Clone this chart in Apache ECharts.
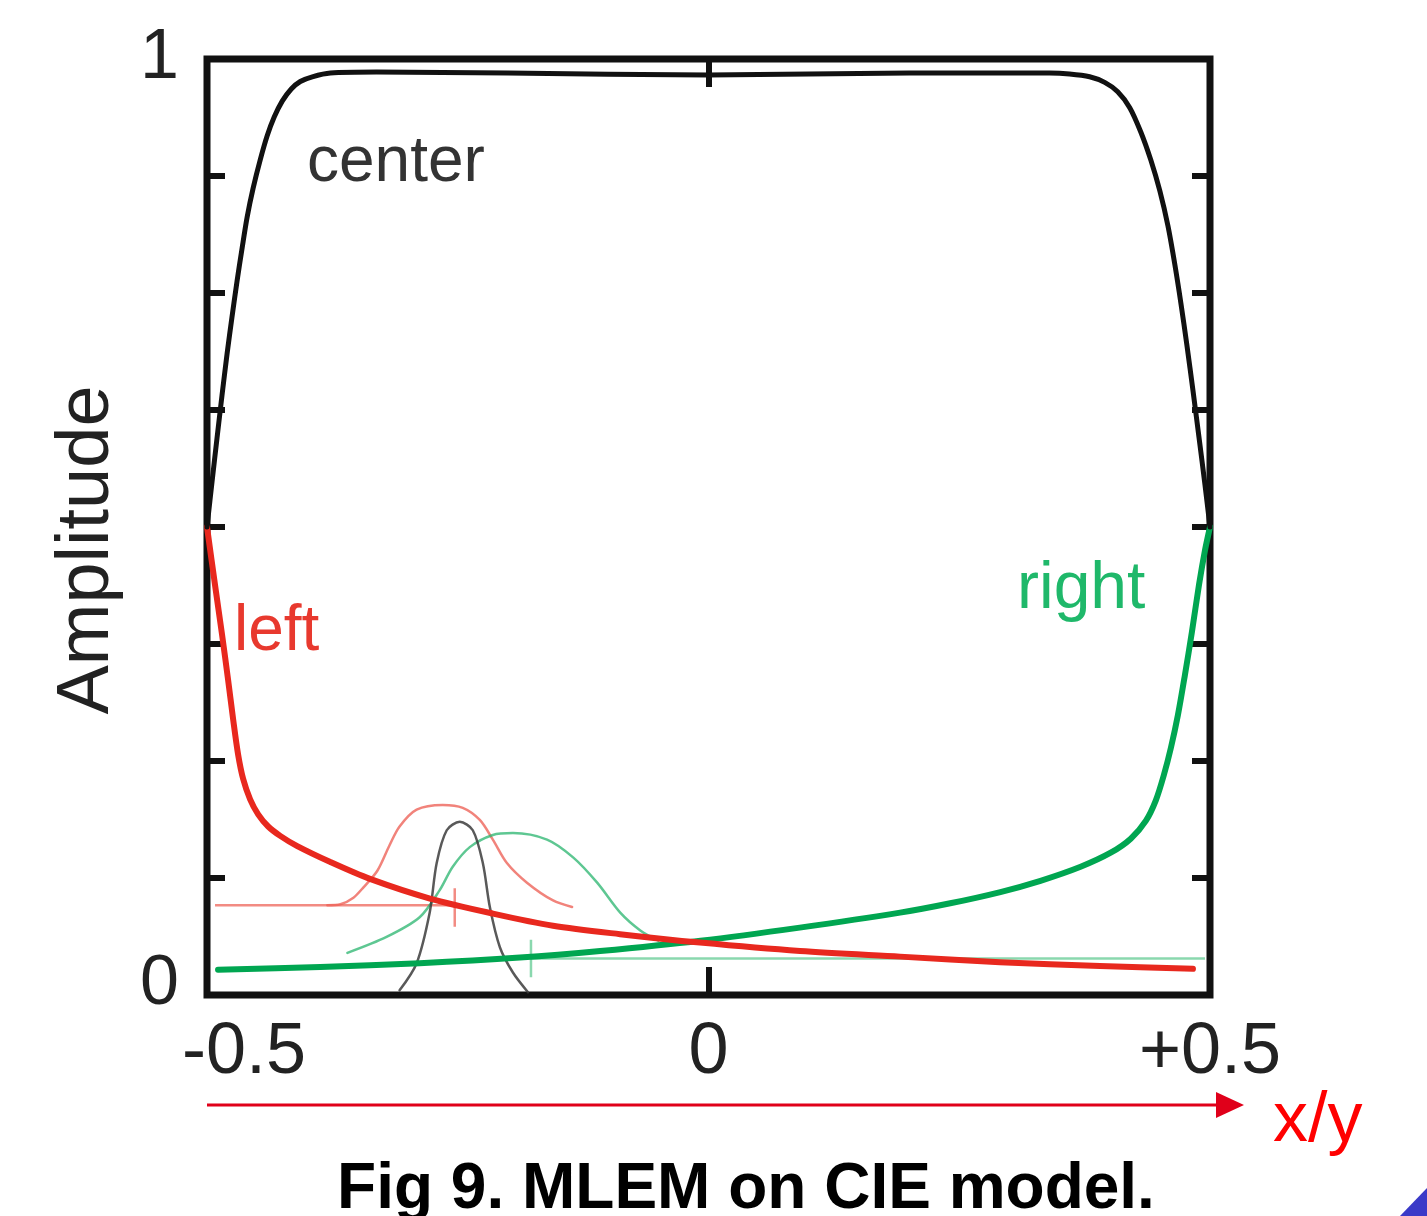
<!DOCTYPE html>
<html><head><meta charset="utf-8">
<script src="https://cdn.jsdelivr.net/npm/echarts@6/dist/echarts.min.js"></script>
<style>html,body{margin:0;padding:0;background:#fff;} #c{width:1427px;height:1216px;}</style>
</head><body><div id="c"></div>
<script>
// x/y tick labels
const xTickValues = [-0.5, 0, 0.5];
const xTickLabels = ['-0.5', '0', '+0.5'];
const yTickValues = [0, 1];
const yTickLabels = ['0', '1'];

// thick curves
const centerCurve = [[-0.5,0.5],[-0.495,0.548],[-0.49,0.595],[-0.485,0.641],[-0.48,0.685],[-0.475,0.725],[-0.47,0.763],[-0.465,0.798],[-0.46,0.831],[-0.454,0.862],[-0.447,0.892],[-0.44,0.918],[-0.433,0.938],[-0.425,0.955],[-0.416,0.968],[-0.407,0.976],[-0.395,0.981],[-0.377,0.985],[-0.331,0.986],[-0.2,0.985],[0,0.983],[0.2,0.985],[0.34,0.985],[0.36,0.984],[0.38,0.981],[0.395,0.975],[0.408,0.965],[0.42,0.948],[0.431,0.922],[0.441,0.892],[0.45,0.859],[0.458,0.822],[0.465,0.78],[0.471,0.739],[0.477,0.694],[0.483,0.646],[0.489,0.596],[0.495,0.545],[0.5,0.5]];
const leftCurve = [[-0.5,0.5],[-0.492,0.438],[-0.485,0.385],[-0.479,0.337],[-0.474,0.295],[-0.469,0.257],[-0.464,0.231],[-0.457,0.209],[-0.449,0.193],[-0.439,0.180],[-0.427,0.170],[-0.41,0.159],[-0.377,0.142],[-0.3375,0.124],[-0.2777,0.103],[-0.2149,0.087],[-0.155,0.074],[-0.0882,0.065],[-0.0085,0.056],[0.0912,0.047],[0.191,0.041],[0.2906,0.035],[0.3903,0.031],[0.483,0.028]];
const rightCurve = [[-0.489,0.027],[-0.387,0.030],[-0.288,0.034],[-0.188,0.040],[-0.108,0.047],[-0.008,0.058],[0.091,0.072],[0.191,0.088],[0.241,0.098],[0.291,0.110],[0.331,0.122],[0.371,0.137],[0.401,0.152],[0.421,0.167],[0.436,0.186],[0.446,0.208],[0.454,0.235],[0.461,0.264],[0.468,0.299],[0.475,0.342],[0.482,0.388],[0.489,0.438],[0.495,0.475],[0.5,0.5]];

// thin response curves
const leftBell = [[-0.38,0.096],[-0.367,0.097],[-0.354,0.104],[-0.344,0.115],[-0.33,0.133],[-0.318,0.16],[-0.308,0.18],[-0.291,0.198],[-0.265,0.203],[-0.245,0.2],[-0.228,0.187],[-0.215,0.166],[-0.201,0.141],[-0.181,0.12],[-0.155,0.101],[-0.136,0.094]];
const centerBell = [[-0.308,0.005],[-0.291,0.034],[-0.278,0.088],[-0.271,0.141],[-0.261,0.176],[-0.248,0.185],[-0.235,0.176],[-0.225,0.141],[-0.218,0.094],[-0.208,0.051],[-0.195,0.024],[-0.18,0.003]];
const rightBell = [[-0.36,0.045],[-0.321,0.062],[-0.288,0.083],[-0.268,0.112],[-0.255,0.137],[-0.238,0.158],[-0.215,0.171],[-0.195,0.173],[-0.161,0.166],[-0.135,0.147],[-0.111,0.12],[-0.088,0.088],[-0.068,0.069],[-0.05,0.058]];

// markers
const leftBase = [[-0.492,0.096],[-0.253,0.096]];
const leftMark = [[-0.253,0.114],[-0.253,0.073]];
const rightBase = [[-0.177,0.039],[0.495,0.039]];
const rightMark = [[-0.177,0.059],[-0.177,0.019]];

const FONT = '"Liberation Sans", Arial, Helvetica, sans-serif';
const chart = echarts.init(document.getElementById('c'));

function line(data, color, width, z, sm) {
  return {type:'line', data, showSymbol:false, symbol:'none', smooth:sm===undefined?0.3:sm,
    lineStyle:{color, width, cap:'round', join:'round'}, z, animation:false, silent:true};
}
function seg(data, color, width, z) {
  return {type:'line', data, showSymbol:false, symbol:'none', smooth:false,
    lineStyle:{color, width}, z, animation:false, silent:true};
}
const tickStyle = {color:'#111', width:6};

chart.setOption({
  animation:false,
  backgroundColor:'#fff',
  grid:{left:207, top:59, width:1003, height:936, show:true, borderColor:'#111', borderWidth:7, backgroundColor:'transparent'},
  xAxis:[{
    type:'value', min:-0.5, max:0.5, interval:0.5, position:'bottom',
    axisLine:{show:false, onZero:false}, splitLine:{show:false},
    axisTick:{show:true, inside:true, length:28, lineStyle:tickStyle},
    axisLabel:{show:true, margin:22, color:'#222', fontSize:72, fontFamily:FONT,
      formatter:(v)=>{ const i = xTickValues.findIndex(t=>Math.abs(t-v)<1e-9); if(i<0) return ''; return i===0 ? '{s|'+xTickLabels[i]+'}' : xTickLabels[i]; },
      rich:{s:{fontSize:72, fontFamily:FONT, color:'#222', padding:[0,0,0,74]}}}
  },{
    type:'value', min:-0.5, max:0.5, interval:0.5, position:'top',
    axisLine:{show:false, onZero:false}, splitLine:{show:false}, axisLabel:{show:false},
    axisTick:{show:true, inside:true, length:28, lineStyle:tickStyle}
  }],
  yAxis:[{
    type:'value', min:0, max:1, interval:0.125, position:'left',
    axisLine:{show:false, onZero:false}, splitLine:{show:false},
    axisTick:{show:true, inside:true, length:18, lineStyle:tickStyle},
    axisLabel:{show:true, margin:28, color:'#222', fontSize:70, fontFamily:FONT,
      formatter:(v)=>{ const i = yTickValues.findIndex(t=>Math.abs(t-v)<1e-9); if(i<0) return ''; return i===0 ? '{z|'+yTickLabels[i]+'}' : yTickLabels[i]; },
      rich:{z:{fontSize:70, fontFamily:FONT, color:'#222', padding:[0,0,20,0]}}}
  },{
    type:'value', min:0, max:1, interval:0.125, position:'right',
    axisLine:{show:false, onZero:false}, splitLine:{show:false}, axisLabel:{show:false},
    axisTick:{show:true, inside:true, length:18, lineStyle:tickStyle}
  }],
  series:[
    seg(leftBase, 'rgba(238,100,90,0.75)', 2.5, 2),
    seg(leftMark, 'rgba(238,100,90,0.75)', 2.5, 2),
    seg(rightBase, 'rgba(60,190,120,0.6)', 2.5, 2),
    seg(rightMark, 'rgba(60,190,120,0.6)', 2.5, 2),
    line(leftBell, 'rgba(238,100,90,0.8)', 2.5, 3),
    line(rightBell, 'rgba(40,180,110,0.75)', 2.5, 3),
    line(centerBell, 'rgba(60,60,60,0.85)', 2.5, 3),
    line(rightCurve, '#00a651', 6, 5),
    line(leftCurve, '#e8281e', 6, 6),
    line(centerCurve, '#111111', 5, 7)
  ],
  graphic:[
    {type:'text', x:88, y:550, rotation:Math.PI/2, style:{text:'Amplitude', font:'74px '+FONT, fill:'#222', textAlign:'center', textVerticalAlign:'middle'}},
    {type:'text', x:307, y:163, style:{text:'center', font:'64px '+FONT, fill:'#333', textAlign:'left', textVerticalAlign:'middle'}},
    {type:'text', x:234, y:632, style:{text:'left', font:'64px '+FONT, fill:'#e8392e', textAlign:'left', textVerticalAlign:'middle'}},
    {type:'text', x:1017, y:590, style:{text:'right', font:'66px '+FONT, fill:'#1fb86a', textAlign:'left', textVerticalAlign:'middle'}},
    {type:'line', shape:{x1:207, y1:1105, x2:1222, y2:1105}, style:{stroke:'#e0001a', lineWidth:3}},
    {type:'polygon', shape:{points:[[1216,1092],[1244,1105],[1216,1118]]}, style:{fill:'#e0001a'}},
    {type:'text', x:1273, y:1122, style:{text:'x/y', font:'70px '+FONT, fill:'#ff0000', textAlign:'left', textVerticalAlign:'middle'}},
    {type:'text', x:746, y:1190, style:{text:'Fig 9. MLEM on CIE model.', font:'bold 64px '+FONT, fill:'#000', textAlign:'center', textVerticalAlign:'middle'}},
    {type:'polygon', shape:{points:[[1400,1216],[1427,1188],[1427,1216]]}, style:{fill:'#3a3ac8'}}
  ]
});
</script></body></html>
